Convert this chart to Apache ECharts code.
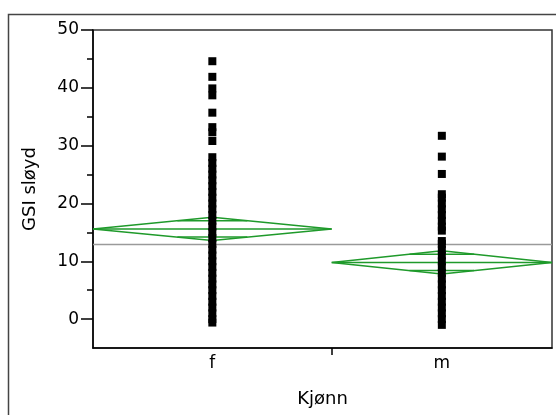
<!DOCTYPE html>
<html>
<head>
<meta charset="utf-8">
<script src="https://cdn.jsdelivr.net/npm/echarts@6/dist/echarts.min.js"></script>
<style>
html,body{margin:0;padding:0;background:#fff;}
#chart{width:556px;height:415px;}
</style>
</head>
<body>
<div id="chart"></div>
<script>
// ---- data ----
const categories = ['f', 'm'];
const groupShare = [0.52, 0.48]; // relative group widths (proportional to counts)
const fValues = [-0.6, 0, 1, 2, 3, 4, 5, 6, 7, 8, 9, 10, 11, 12, 13, 14, 15, 16, 17, 18, 19, 20,
  21, 22, 23, 24, 25, 26, 27, 28, 30.8, 32.3, 33.2, 35.7, 38.7, 39.9, 41.9, 44.6];
const mValues = [-1, 0, 1, 2, 3, 4, 5, 6, 7, 8, 9, 10, 11, 12, 13, 13.5,
  15.3, 16, 17, 18, 19, 20, 21, 21.6, 25.1, 28.1, 31.7];
const groupMeans = [15.6, 9.8];
const ciHalfWidth = [2.0, 2.0];
const grandMean = 12.9;
const yTickValues = [0, 10, 20, 30, 40, 50];
const yMinorTickValues = [5, 15, 25, 35, 45];
const xAxisTitle = 'Kjønn';
const yAxisTitle = 'GSI sløyd';

// ---- derived group extents ----
const starts = [], ends = [], centers = [];
let acc = 0;
groupShare.forEach(s => { starts.push(acc); centers.push(acc + s / 2); acc += s; ends.push(acc); });
const groupValues = [fValues, mValues];

const FONT = 'DejaVu Sans';
const GREEN = '#1f9a2b';
const series = [];

function seg(points, color, width, z) {
  series.push({
    type: 'line', data: points, symbol: 'none', silent: true,
    lineStyle: { color: color, width: width }, z: z, animation: false
  });
}

// grand mean line
seg([[0, grandMean], [1, grandMean]], '#9a9a9a', 1.5, 2);

// means diamonds
categories.forEach((c, i) => {
  const m = groupMeans[i], h = ciHalfWidth[i];
  const x0 = starts[i], x1 = ends[i], xc = centers[i];
  seg([[x0, m], [xc, m + h], [x1, m], [xc, m - h], [x0, m]], GREEN, 1.5, 3);
  seg([[x0, m], [x1, m]], GREEN, 1.5, 3);
  const k = 1 / Math.SQRT2;
  const dx = (1 - k) * (x1 - x0) / 2;
  seg([[xc - dx, m + h * k], [xc + dx, m + h * k]], GREEN, 1.5, 3);
  seg([[xc - dx, m - h * k], [xc + dx, m - h * k]], GREEN, 1.5, 3);
});

// points
categories.forEach((c, i) => {
  series.push({
    type: 'scatter', name: c,
    data: groupValues[i].map(v => [centers[i], v]),
    symbol: 'rect', symbolSize: 8,
    itemStyle: { color: '#000', opacity: 1, borderWidth: 0 },
    z: 5, animation: false
  });
});

const chart = echarts.init(document.getElementById('chart'));
chart.setOption({
  animation: false,
  backgroundColor: '#fff',
  textStyle: { fontFamily: FONT },
  graphic: [{
    type: 'rect', silent: true,
    shape: { x: 8.5, y: 14.5, width: 620, height: 500 },
    style: { fill: 'none', stroke: '#444', lineWidth: 1.5 }
  }],
  grid: { left: 93, right: 4, top: 30, bottom: 67, show: true, borderColor: '#333', borderWidth: 1.5 },
  xAxis: {
    type: 'value', min: 0, max: 1,
    name: xAxisTitle, nameLocation: 'middle', nameGap: 42,
    nameTextStyle: { fontFamily: FONT, fontSize: 18, color: '#000' },
    axisLine: { show: true, onZero: false, lineStyle: { color: '#000', width: 1.5 } },
    axisTick: { show: true, customValues: ends.slice(0, -1), length: 7, lineStyle: { color: '#000', width: 1.5 } },
    axisLabel: {
      show: true, customValues: centers, margin: 7,
      fontFamily: FONT, fontSize: 17, color: '#000',
      formatter: v => {
        let best = 0;
        centers.forEach((cc, i) => { if (Math.abs(cc - v) < Math.abs(centers[best] - v)) best = i; });
        return categories[best];
      }
    },
    splitLine: { show: false }
  },
  yAxis: [{
    type: 'value', min: -5, max: 50, position: 'left',
    name: yAxisTitle, nameLocation: 'middle', nameGap: 54,
    nameTextStyle: { fontFamily: FONT, fontSize: 18, color: '#000' },
    axisLine: { show: true, onZero: false, lineStyle: { color: '#000', width: 1.5 } },
    axisTick: { show: true, customValues: yTickValues, length: 12, lineStyle: { color: '#000', width: 1.5 } },
    axisLabel: { show: true, customValues: yTickValues, margin: 14, fontFamily: FONT, fontSize: 17, color: '#000' },
    splitLine: { show: false }
  }, {
    type: 'value', min: -5, max: 50, position: 'left', offset: 0,
    axisLine: { show: false },
    axisTick: { show: true, customValues: yMinorTickValues, length: 6, lineStyle: { color: '#000', width: 1.5 } },
    axisLabel: { show: false },
    splitLine: { show: false }
  }],
  series: series
});
</script>
</body>
</html>
